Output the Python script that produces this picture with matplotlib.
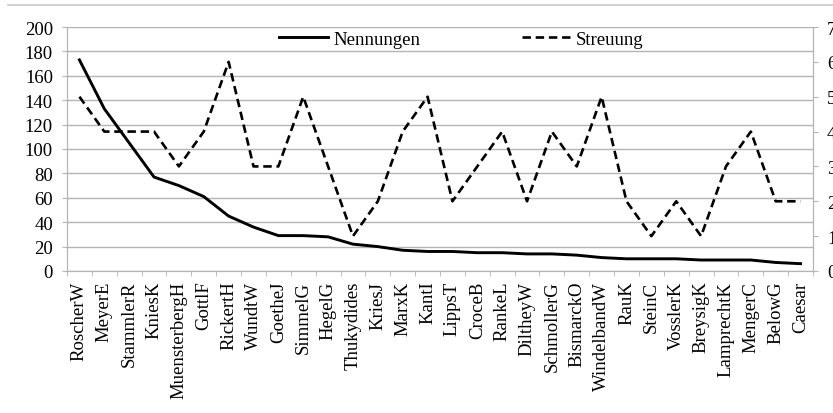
import matplotlib
matplotlib.use("Agg")
import matplotlib.pyplot as plt
from matplotlib.lines import Line2D
import numpy as np

categories = ["RoscherW", "MeyerE", "StammlerR", "KniesK", "MuensterbergH", "GottlF",
              "RickertH", "WundtW", "GoetheJ", "SimmelG", "HegelG", "Thukydides",
              "KriesJ", "MarxK", "KantI", "LippsT", "CroceB", "RankeL", "DiltheyW",
              "SchmollerG", "BismarckO", "WindelbandW", "RauK", "SteinC", "VosslerK",
              "BreysigK", "LamprechtK", "MengerC", "BelowG", "Caesar"]
nennungen = [173, 133, 105, 77, 70, 61, 45, 36, 29, 29, 28, 22, 20, 17, 16, 16, 15, 15,
             14, 14, 13, 11, 10, 10, 10, 9, 9, 9, 7, 6]
streuung = [5, 4, 4, 4, 3, 4, 6, 3, 3, 5, 3, 1, 2, 4, 5, 2, 3, 4, 2, 4, 3, 5, 2, 1, 2,
            1, 3, 4, 2, 2]
left_ticks = [0, 20, 40, 60, 80, 100, 120, 140, 160, 180, 200]
right_ticks = [0, 1, 2, 3, 4, 5, 6, 7]

plt.rcParams['font.family'] = ['Liberation Serif', 'DejaVu Serif']
fs = 13.5
grid_c = '#b4b4b4'
dash = (0, (3.2, 1.8))

fig = plt.figure(figsize=(8.33, 4.14), dpi=100)
ax = fig.add_axes([67/833, 1-272/414, (813-67)/833, (272-28)/414])
ax2 = ax.twinx()

x = np.arange(len(categories))
ax.plot(x, nennungen, color='black', lw=2.1, solid_joinstyle='round', zorder=3)
ax2.plot(x, streuung, color='black', lw=1.9, linestyle=dash, zorder=3)

ax.set_xlim(-0.5, len(categories) - 0.5)
ax.set_ylim(0, 200)
ax2.set_ylim(0, 7)
ax.set_yticks(left_ticks)
ax2.set_yticks(right_ticks)
ax.yaxis.grid(True, color=grid_c, lw=1)
ax.set_axisbelow(True)

ax.set_xticks(x)
ax.set_xticklabels(categories, rotation=90, fontsize=fs)
ax.set_xticks(np.arange(len(categories) + 1) - 0.5, minor=True)
ax.tick_params(axis='x', which='major', length=0, pad=7)
ax.tick_params(axis='x', which='minor', length=3.6, color=grid_c, direction='out')
ax.tick_params(axis='y', length=3.6, color=grid_c, labelsize=fs, pad=6.5)
ax2.tick_params(axis='y', length=3.6, color=grid_c, labelsize=fs, pad=6.5)

for a in (ax, ax2):
    a.spines['top'].set_visible(False)
    for s in ('left', 'right', 'bottom'):
        a.spines[s].set_color(grid_c)

handles = [Line2D([], [], color='black', lw=2.1),
           Line2D([], [], color='black', lw=1.9, linestyle=dash)]
ax.legend(handles, ['Nennungen', 'Streuung'], loc='center',
          bbox_to_anchor=(0.529, 0.951), ncol=2, frameon=False, fontsize=fs,
          handlelength=2.6, handletextpad=0.27, columnspacing=5.45,
          borderpad=0, borderaxespad=0)

fig.add_artist(Line2D([8/833, 1], [1-6/414, 1-6/414], color='#c8c8c8', lw=1.2,
                      transform=fig.transFigure))

fig.savefig('out.png', dpi=100)
